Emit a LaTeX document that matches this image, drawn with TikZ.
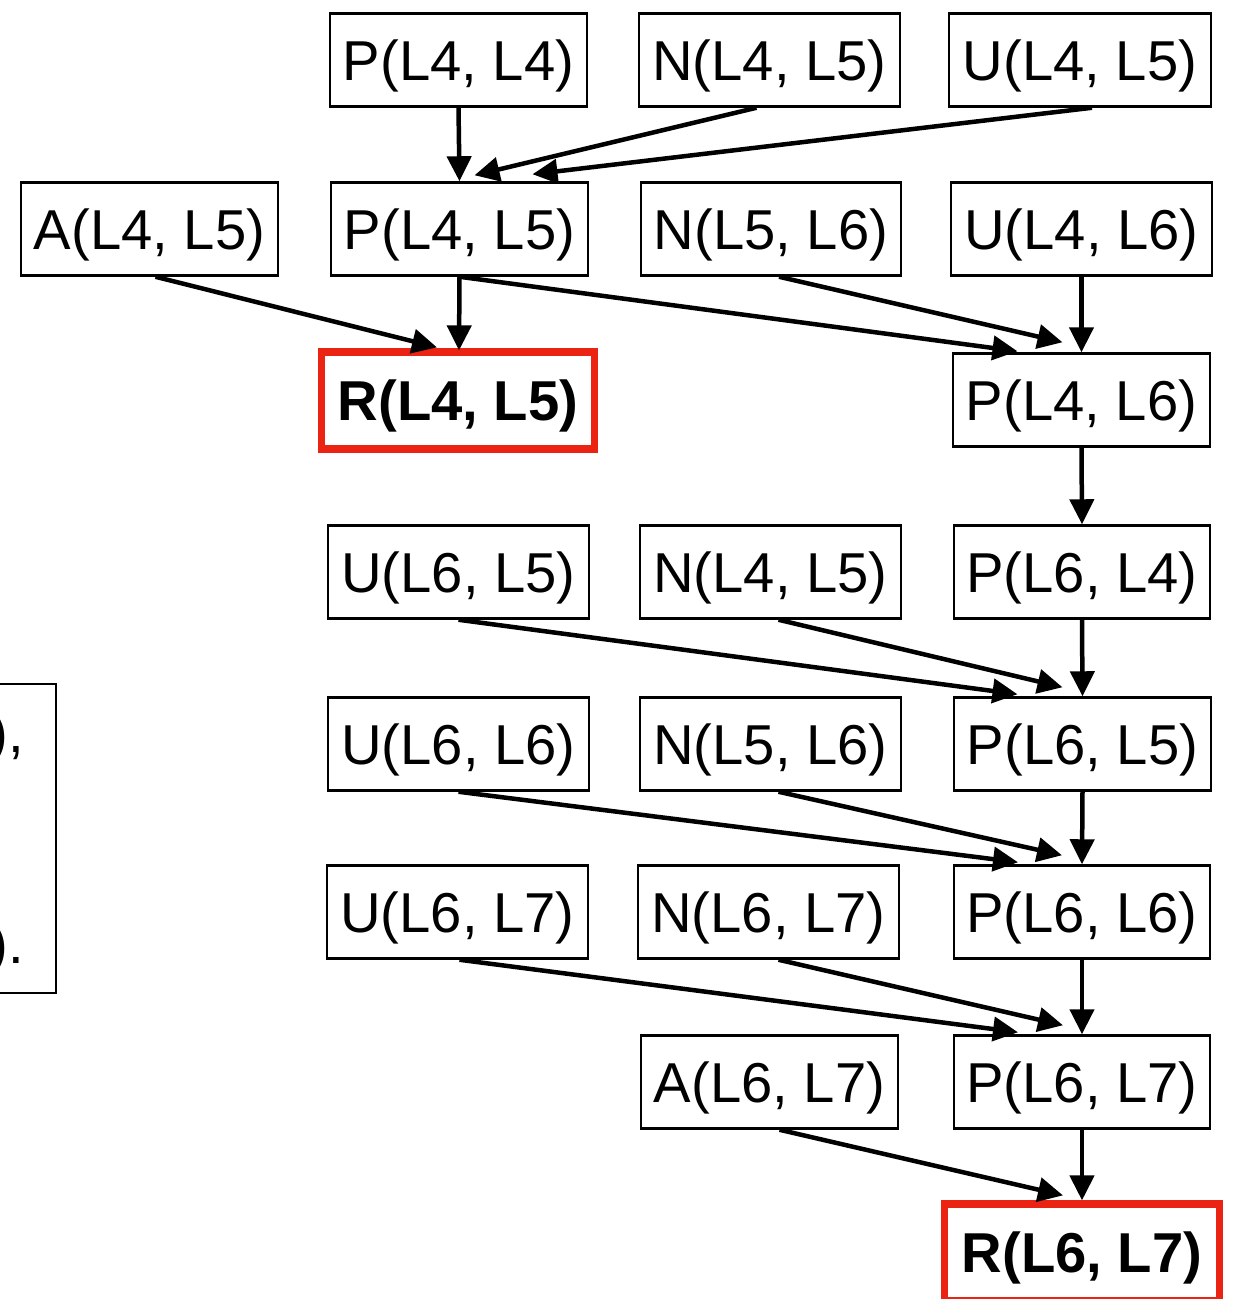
\documentclass[tikz,border=0pt]{standalone}
\usepackage{fontspec}
\setmainfont{Liberation Sans}
\usetikzlibrary{arrows.meta,calc}
\definecolor{hl}{RGB}{234,35,18}
\begin{document}
\begin{tikzpicture}[x=0.02cm,y=-0.02cm,
  box/.style={draw,line width=0.05cm,inner sep=0pt,minimum height=1.86cm,
    font=\fontsize{32pt}{38pt}\selectfont,text height=23pt,text depth=0pt},
  goal/.style={box,draw=hl,line width=0.145cm,minimum height=1.94cm,
    font=\fontsize{32pt}{38pt}\selectfont\bfseries},
  arr/.style={line width=0.09cm,-{Triangle[length=0.5cm,width=0.48cm]}},
  tail/.style={inner sep=0pt,font=\fontsize{32pt}{38pt}\selectfont}]
\useasboundingbox (0,0) rectangle (1233,1299);

% partly visible note box on the left
\node[draw,line width=0.05cm,inner sep=0pt,minimum width=7cm,minimum height=6.18cm,anchor=east] (note) at (57,838.5) {};
\node[tail,anchor=base east] (noteA) at (24,752) {),};
\node[tail,anchor=base east] (noteB) at (24,963) {).};

% row 1
\node[box,minimum width=5.14cm] (p44) at (458.5,60) {P(L4, L4)};
\node[box,minimum width=5.22cm] (n45a) at (769.5,60) {N(L4, L5)};
\node[box,minimum width=5.24cm] (u45) at (1080,60) {U(L4, L5)};
% row 2
\node[box,minimum width=5.14cm] (a45) at (149.5,229) {A(L4, L5)};
\node[box,minimum width=5.14cm] (p45) at (459.5,229) {P(L4, L5)};
\node[box,minimum width=5.20cm] (n56a) at (771,229) {N(L5, L6)};
\node[box,minimum width=5.22cm] (u46) at (1081.5,229) {U(L4, L6)};
% row 3
\node[goal,minimum width=5.46cm] (r45) at (458,400.5) {R(L4, L5)};
\node[box,minimum width=5.14cm] (p46) at (1081.5,400) {P(L4, L6)};
% row 4
\node[box,minimum width=5.22cm] (u65) at (458.5,572) {U(L6, L5)};
\node[box,minimum width=5.22cm] (n45b) at (770.5,572) {N(L4, L5)};
\node[box,minimum width=5.12cm] (p64) at (1082,572) {P(L6, L4)};
% row 5
\node[box,minimum width=5.22cm] (u66) at (458.5,744) {U(L6, L6)};
\node[box,minimum width=5.22cm] (n56b) at (770.5,744) {N(L5, L6)};
\node[box,minimum width=5.14cm] (p65) at (1082.5,744) {P(L6, L5)};
% row 6
\node[box,minimum width=5.22cm] (u67) at (457.5,912) {U(L6, L7)};
\node[box,minimum width=5.22cm] (n67) at (768.5,912) {N(L6, L7)};
\node[box,minimum width=5.12cm] (p66) at (1082,912) {P(L6, L6)};
% row 7
\node[box,minimum width=5.14cm] (a67) at (769.5,1082) {A(L6, L7)};
\node[box,minimum width=5.12cm] (p67) at (1082,1082) {P(L6, L7)};
% row 8
\node[goal,minimum width=5.50cm] (r67) at (1082,1252.5) {R(L6, L7)};

% edges into P(L4, L5)
\draw[arr] (p44.south) -- (p45.north);
\draw[arr] ($(n45a.south)+(-13,0)$) -- ($(p45.north)+(15,-6)$);
\draw[arr] ($(u45.south)+(12,0)$) -- ($(p45.north)+(73,-7)$);
% edges into R(L4, L5)
\draw[arr] ($(a45.south)+(6,0)$) -- ($(r45.north)+(-21,-1)$);
\draw[arr] (p45.south) -- ($(r45.north)+(1,2)$);
% edges into P(L4, L6)
\draw[arr] (p45.south) -- ($(p46.north)+(-64,-1)$);
\draw[arr] ($(n56a.south)+(8,0)$) -- ($(p46.north)+(-19,-10)$);
\draw[arr] (u46.south) -- (p46.north);
% chain on the right
\draw[arr] (p46.south) -- (p64.north);
\draw[arr] (u65.south) -- ($(p65.north)+(-65,-2)$);
\draw[arr] ($(n45b.south)+(8,0)$) -- ($(p65.north)+(-20,-9)$);
\draw[arr] (p64.south) -- (p65.north);
\draw[arr] (u66.south) -- ($(p66.north)+(-64,-2)$);
\draw[arr] ($(n56b.south)+(8,0)$) -- ($(p66.north)+(-20,-9)$);
\draw[arr] (p65.south) -- (p66.north);
\draw[arr] ($(u67.south)+(2,0)$) -- ($(p67.north)+(-64,-2)$);
\draw[arr] ($(n67.south)+(10,0)$) -- ($(p67.north)+(-19,-9)$);
\draw[arr] (p66.south) -- (p67.north);
% edges into R(L6, L7)
\draw[arr] ($(a67.south)+(10,0)$) -- ($(r67.north)+(-19,-5)$);
\draw[arr] (p67.south) -- (r67.north);
\end{tikzpicture}
\end{document}
